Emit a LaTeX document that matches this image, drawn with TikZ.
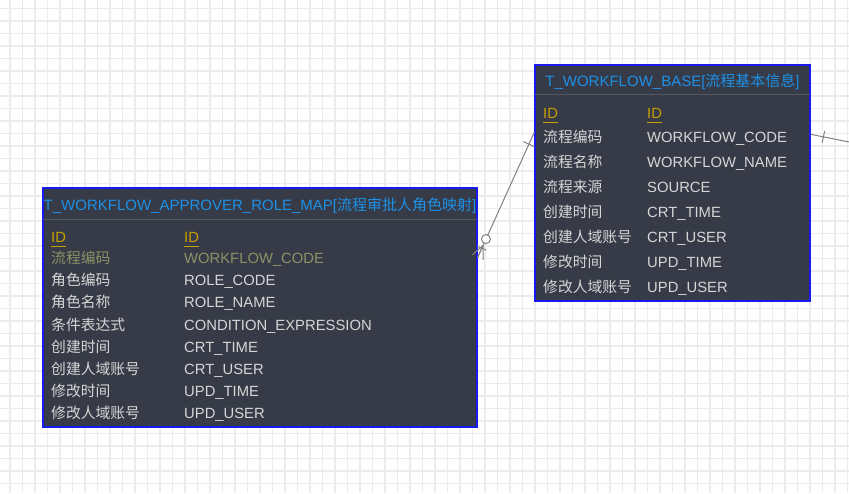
\documentclass[tikz,border=0pt]{standalone}
\usepackage{fontspec}
\setmainfont{Liberation Sans}
\newfontfamily\cjk{Noto Sans CJK SC}
\usetikzlibrary{calc}
\definecolor{gridc}{RGB}{236,236,236}
\definecolor{tblfill}{RGB}{54,59,71}
\definecolor{tblborder}{RGB}{24,24,240}
\definecolor{titlec}{RGB}{30,144,230}
\definecolor{sepc}{RGB}{82,87,98}
\definecolor{idc}{RGB}{200,160,0}
\definecolor{rowc}{RGB}{214,214,214}
\definecolor{olivec}{RGB}{140,146,102}
\definecolor{connc}{RGB}{130,130,130}
\tikzset{
  tbl/.style={draw=tblborder, line width=1.4pt, fill=tblfill, inner sep=0pt},
  sepline/.style={draw=sepc, line width=1pt},
  cell/.style={anchor=west, inner sep=0pt, yshift=-2.5pt, text height=0.72em, text depth=0pt, font=\fontsize{14.8}{15}\selectfont, text=rowc},
  titletext/.style={inner sep=0pt, yshift=-2.5pt, text height=0.72em, text depth=0pt, font=\fontsize{15}{15}\selectfont, text=titlec},
  idcell/.style={cell, text=idc},
  olivecell/.style={cell, text=olivec},
  idline/.style={draw=idc, line width=1.3pt},
  conn/.style={draw=connc, line width=1pt},
}
\begin{document}
\begin{tikzpicture}[x=1pt,y=-1pt]
\useasboundingbox (0,0) rectangle (849,493);
\fill[white] (0,0) rectangle (849,493);
% grid
\foreach \i in {0,...,67} {
  \draw[gridc, line width=1.4pt] ({10+12.5*\i},0) -- ({10+12.5*\i},493);
}
\foreach \j in {0,...,38} {
  \draw[gridc, line width=1.4pt] (0,{8.3+12.5*\j}) -- (849,{8.3+12.5*\j});
}

% ---------- T_WORKFLOW_BASE ----------
\node[tbl, minimum width=275, minimum height=236] (base) at (672.5,183) {};
\draw[sepline] ($(base.north west)+(1,30)$) -- ($(base.north east)+(-1,30)$);
\node[titletext] (basetitle) at (672.5,80) {T\_WORKFLOW\_BASE[{\cjk 流程基本信息}]};
\node[idcell] (bid1) at (543,112) {ID};
\node[idcell] (bid2) at (647,112) {ID};
\draw[idline] ($(bid1.south west)+(0,4.5)$) -- ($(bid1.south east)+(0,4.5)$);
\draw[idline] ($(bid2.south west)+(0,4.5)$) -- ($(bid2.south east)+(0,4.5)$);
\node[cell] (b1a) at (543,136) {\cjk 流程编码};
\node[cell] (b1b) at (647,136) {WORKFLOW\_CODE};
\node[cell] (b2a) at (543,161) {\cjk 流程名称};
\node[cell] (b2b) at (647,161) {WORKFLOW\_NAME};
\node[cell] (b3a) at (543,186) {\cjk 流程来源};
\node[cell] (b3b) at (647,186) {SOURCE};
\node[cell] (b4a) at (543,211) {\cjk 创建时间};
\node[cell] (b4b) at (647,211) {CRT\_TIME};
\node[cell] (b5a) at (543,236) {\cjk 创建人域账号};
\node[cell] (b5b) at (647,236) {CRT\_USER};
\node[cell] (b6a) at (543,261) {\cjk 修改时间};
\node[cell] (b6b) at (647,261) {UPD\_TIME};
\node[cell] (b7a) at (543,286) {\cjk 修改人域账号};
\node[cell] (b7b) at (647,286) {UPD\_USER};

% ---------- T_WORKFLOW_APPROVER_ROLE_MAP ----------
\node[tbl, minimum width=434, minimum height=239] (map) at (260,307.5) {};
\draw[sepline] ($(map.north west)+(1,32)$) -- ($(map.north east)+(-1,32)$);
\node[titletext] (maptitle) at (260,204) {T\_WORKFLOW\_APPROVER\_ROLE\_MAP[{\cjk 流程审批人角色映射}]};
\node[idcell] (mid1) at (51,236) {ID};
\node[idcell] (mid2) at (184,236) {ID};
\draw[idline] ($(mid1.south west)+(0,4.5)$) -- ($(mid1.south east)+(0,4.5)$);
\draw[idline] ($(mid2.south west)+(0,4.5)$) -- ($(mid2.south east)+(0,4.5)$);
\node[olivecell] (m1a) at (51,257) {\cjk 流程编码};
\node[olivecell] (m1b) at (184,257) {WORKFLOW\_CODE};
\node[cell] (m2a) at (51,279) {\cjk 角色编码};
\node[cell] (m2b) at (184,279) {ROLE\_CODE};
\node[cell] (m3a) at (51,301) {\cjk 角色名称};
\node[cell] (m3b) at (184,301) {ROLE\_NAME};
\node[cell] (m4a) at (51,324) {\cjk 条件表达式};
\node[cell] (m4b) at (184,324) {CONDITION\_EXPRESSION};
\node[cell] (m5a) at (51,346) {\cjk 创建时间};
\node[cell] (m5b) at (184,346) {CRT\_TIME};
\node[cell] (m6a) at (51,368) {\cjk 创建人域账号};
\node[cell] (m6b) at (184,368) {CRT\_USER};
\node[cell] (m7a) at (51,390) {\cjk 修改时间};
\node[cell] (m7b) at (184,390) {UPD\_TIME};
\node[cell] (m8a) at (51,412) {\cjk 修改人域账号};
\node[cell] (m8b) at (184,412) {UPD\_USER};

% ---------- connector map -> base ----------
\coordinate (A) at ($(map.north east)+(0,70)$);
\coordinate (B) at ($(base.north west)+(0,68)$);
\draw[conn] (A) -- (B);
% one mark at base end
\draw[conn] ($(B)!13pt!(A)!6pt!90:(A)$) -- ($(B)!13pt!(A)!6pt!-90:(A)$);
% zero-to-many at map end
\coordinate (F) at ($(A)!13pt!(B)$);
\draw[conn] (F) -- (A);
\draw[conn] (F) -- ($(A)!6pt!90:(B)$);
\draw[conn] (F) -- ($(A)!6pt!-90:(B)$);
\draw[conn] ($(A)!10pt!(B)!5pt!90:(B)$) -- ($(A)!10pt!(B)!5pt!-90:(B)$);
\draw[conn, fill=white] ($(A)!20pt!(B)$) circle (4.5);

% ---------- connector from base to the right ----------
\coordinate (D) at ($(base.north east)+(0,70)$);
\coordinate (C) at (849,142);
\draw[conn] (D) -- (C);
\draw[conn] ($(D)!13pt!(C)!6pt!90:(C)$) -- ($(D)!13pt!(C)!6pt!-90:(C)$);
\end{tikzpicture}
\end{document}
